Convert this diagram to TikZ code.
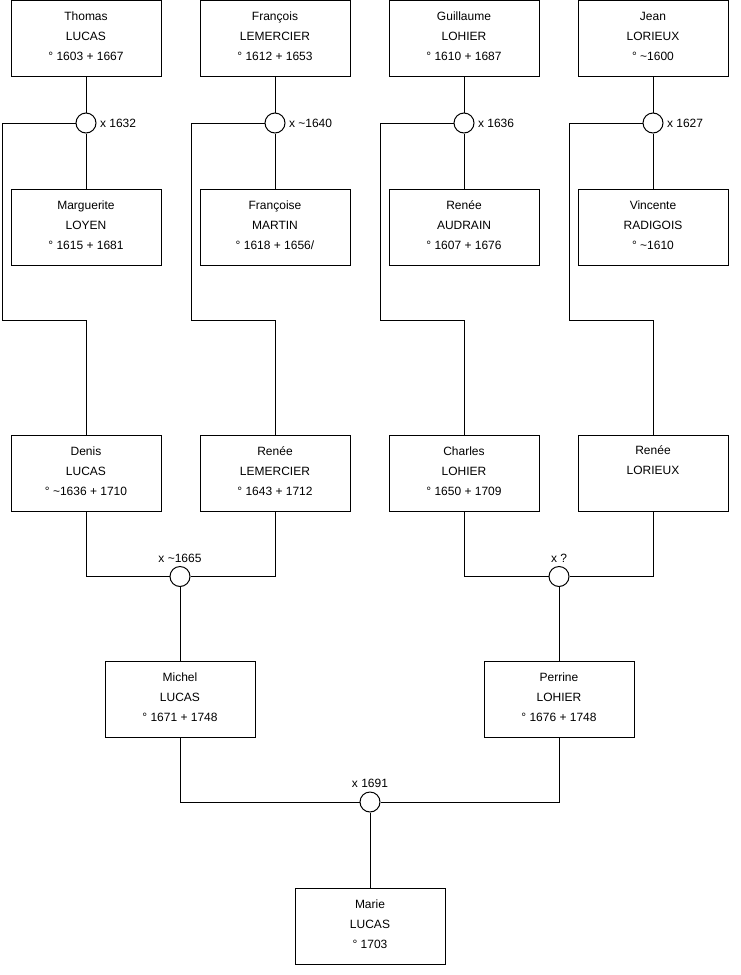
\documentclass[tikz,border=0pt]{standalone}
\usepackage{fontspec}
\setmainfont{Liberation Sans}
\def \d{189}
\tikzset{
  every node/.append style={font=\fontsize{12}{20}\selectfont},
  person/.style={shape=rectangle, draw=black, line width=1pt, minimum width=150pt, minimum height=76pt, inner sep=0pt, align=center,
    execute at end node={\rule[-4pt]{0pt}{4pt}}},
  union/.style={shape=circle, draw=black, line width=1pt, fill=white, minimum size=20pt, inner sep=0pt},
  link/.style={draw=black, line width=1pt}
}

\begin{document}
\begin{tikzpicture}[x=1pt, y=-1pt]
    \useasboundingbox (0, 0) rectangle (740, 975);
    % grands-parents
    \node[person] (T1) at (86, 38.5) {Thomas\\LUCAS\\° 1603 + 1667};
    \node[person] (T2) at (86+\d, 38.5) {François\\LEMERCIER\\° 1612 + 1653};
    \node[person] (T3) at (86+2*\d, 38.5) {Guillaume\\LOHIER\\° 1610 + 1687};
    \node[person] (T4) at (86+3*\d, 38.5) {Jean\\LORIEUX\\° \textasciitilde1600};
    \node[union, label={right:x 1632}] (W1) at (86, 123) {};
    \node[union, label={right:x \textasciitilde1640}] (W2) at (86+\d, 123) {};
    \node[union, label={right:x 1636}] (W3) at (86+2*\d, 123) {};
    \node[union, label={right:x 1627}] (W4) at (86+3*\d, 123) {};
    \node[person] (S1) at (86, 227) {Marguerite\\LOYEN\\° 1615 + 1681};
    \node[person] (S2) at (86+\d, 227) {Françoise\\MARTIN\\° 1618 + 1656/};
    \node[person] (S3) at (86+2*\d, 227) {Renée\\AUDRAIN\\° 1607 + 1676};
    \node[person] (S4) at (86+3*\d, 227) {Vincente\\RADIGOIS\\° \textasciitilde1610};
    \coordinate (B1) at (2, 320);
    \coordinate (B2) at (2+\d, 320);
    \coordinate (B3) at (2+2*\d, 320);
    \coordinate (B4) at (2+3*\d, 320);
    % parents
    \node[person] (C1) at (86, 473) {Denis\\LUCAS\\° \textasciitilde1636 + 1710};
    \node[person] (C2) at (86+\d, 473) {Renée\\LEMERCIER\\° 1643 + 1712};
    \node[person] (C3) at (86+2*\d, 473) {Charles\\LOHIER\\° 1650 + 1709};
    \node[person] (C4) at (86+3*\d, 473) {Renée\\LORIEUX\\\strut};
    \node[union, label={above:x \textasciitilde1665}] (W5) at (180, 576.5) {};
    \node[union, label={above:x ?}] (W6) at (559, 576.5) {};
    \node[person] (M1) at (180, 699.5) {Michel\\LUCAS\\° 1671 + 1748};
    \node[person] (M2) at (559, 699.5) {Perrine\\LOHIER\\° 1676 + 1748};
    \node[union, label={above:x 1691}] (W7) at (370, 802) {};
    \node[person] (D) at (370, 926) {Marie\\LUCAS\\° 1703};
    % liens
    \path[link] (T1) -- (W1) -- (S1);
    \path[link] (T2) -- (W2) -- (S2);
    \path[link] (T3) -- (W3) -- (S3);
    \path[link] (T4) -- (W4) -- (S4);
    \path[link] (W1.west) -| (B1) -| (C1.north);
    \path[link] (W2.west) -| (B2) -| (C2.north);
    \path[link] (W3.west) -| (B3) -| (C3.north);
    \path[link] (W4.west) -| (B4) -| (C4.north);
    \path[link] (C1.south) |- (W5.west);
    \path[link] (C2.south) |- (W5.east);
    \path[link] (C3.south) |- (W6.west);
    \path[link] (C4.south) |- (W6.east);
    \path[link] (W5.south) -- (M1.north);
    \path[link] (W6.south) -- (M2.north);
    \path[link] (M1.south) |- (W7.west);
    \path[link] (M2.south) |- (W7.east);
    \path[link] (W7.south) -- (D.north);
  \end{tikzpicture}
\end{document}
